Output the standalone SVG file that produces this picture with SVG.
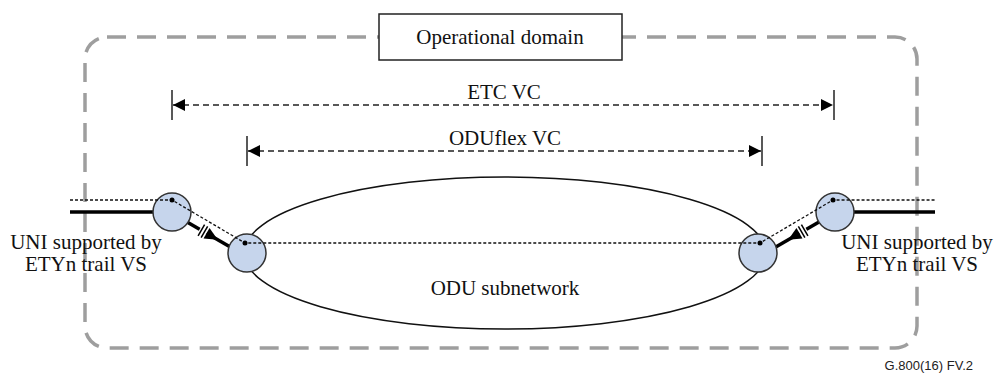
<svg xmlns="http://www.w3.org/2000/svg" width="995" height="377" viewBox="0 0 995 377">
<style>
.t{font-family:'Liberation Serif','DejaVu Serif',serif;font-size:21px;fill:#111;text-anchor:middle}
.dom{fill:none;stroke:#9e9e9e;stroke-width:3.5;stroke-dasharray:19 11}
.vc{stroke:#222;stroke-width:1.5;stroke-dasharray:6 4;fill:none}
.tick{stroke:#222;stroke-width:1.5}
.dot{stroke:#111;stroke-width:1.3;stroke-dasharray:3 2;fill:none}
.thick{stroke:#000;stroke-width:3.5;fill:none}
.cp{fill:#c6d5ec;stroke:#333;stroke-width:1.5}
.pt{fill:#000}
</style>
<defs>
<marker id="ah" viewBox="0 0 12 12" refX="12" refY="6" markerWidth="12" markerHeight="12" markerUnits="userSpaceOnUse" orient="auto-start-reverse">
<path d="M0,0 L12,6 L0,12 Z" fill="#000"/>
</marker>
<g id="flow">
<rect x="-12" y="-3" width="8" height="6" fill="#fff"/>
<path d="M-4,-6 L9,0 L-4,6 Z" fill="#000"/>
<line x1="-6.5" y1="-6.5" x2="-6.5" y2="6.5" stroke="#000" stroke-width="1.5"/>
<line x1="-10" y1="-6.5" x2="-10" y2="6.5" stroke="#000" stroke-width="1.5"/>
</g>
</defs>
<rect width="995" height="377" fill="#fff"/>

<g id="domain-boundary">
<rect class="dom" x="85" y="37" width="832" height="311" rx="22" ry="22"/>
</g>
<g id="operational-domain">
<rect x="379" y="14" width="243" height="46" fill="#fff" stroke="#222" stroke-width="1.5"/>
<text class="t" x="500" y="44">Operational domain</text>
</g>

<g id="odu-subnetwork">
<ellipse cx="505" cy="253" rx="261" ry="76" fill="none" stroke="#111" stroke-width="1.5"/>
<text class="t" x="505" y="295">ODU subnetwork</text>
</g>

<g id="connectors">
<line class="vc" x1="173" y1="105" x2="833" y2="105" marker-start="url(#ah)" marker-end="url(#ah)"/>
<line class="tick" x1="172" y1="90" x2="172" y2="120"/>
<line class="tick" x1="834" y1="90" x2="834" y2="120"/>
<text class="t" x="504" y="99">ETC VC</text>

<line class="vc" x1="248" y1="151" x2="761" y2="151" marker-start="url(#ah)" marker-end="url(#ah)"/>
<line class="tick" x1="247" y1="136" x2="247" y2="166"/>
<line class="tick" x1="762" y1="136" x2="762" y2="166"/>
<text class="t" x="505" y="145">ODUflex VC</text>

<line class="thick" x1="70" y1="212" x2="160" y2="212"/>
<line class="thick" x1="845" y1="212" x2="935" y2="212"/>
<line class="thick" x1="187" y1="222" x2="232" y2="248"/>
<line class="thick" x1="819" y1="222" x2="774" y2="248"/>
<use href="#flow" transform="translate(210,235.3) rotate(30)"/>
<use href="#flow" transform="translate(796,235.3) rotate(150)"/>
</g>

<g id="cp-left-uni">
<circle class="cp" cx="172" cy="212" r="19"/>
</g>
<g id="cp-left-odu">
<circle class="cp" cx="247" cy="253" r="19"/>
</g>
<g id="cp-right-odu">
<circle class="cp" cx="758" cy="253" r="19"/>
</g>
<g id="cp-right-uni">
<circle class="cp" cx="835" cy="212" r="19"/>
</g>

<g id="trail">
<polyline class="dot" points="70,200 172,200 245,243 760,243 833,200 935,200"/>
<circle class="pt" cx="172" cy="200" r="2.5"/>
<circle class="pt" cx="245" cy="243" r="2.5"/>
<circle class="pt" cx="760" cy="243" r="2.5"/>
<circle class="pt" cx="833" cy="200" r="2.5"/>
</g>

<g id="label-left">
<text class="t" x="86" y="249">UNI supported by</text>
<text class="t" x="86" y="271">ETYn trail VS</text>
</g>
<g id="label-right">
<text class="t" x="917" y="249">UNI supported by</text>
<text class="t" x="917" y="271">ETYn trail VS</text>
</g>

<text x="973" y="370" font-family="'Liberation Sans',Arial,sans-serif" font-size="13" fill="#222" text-anchor="end">G.800(16)  FV.2</text>
</svg>
